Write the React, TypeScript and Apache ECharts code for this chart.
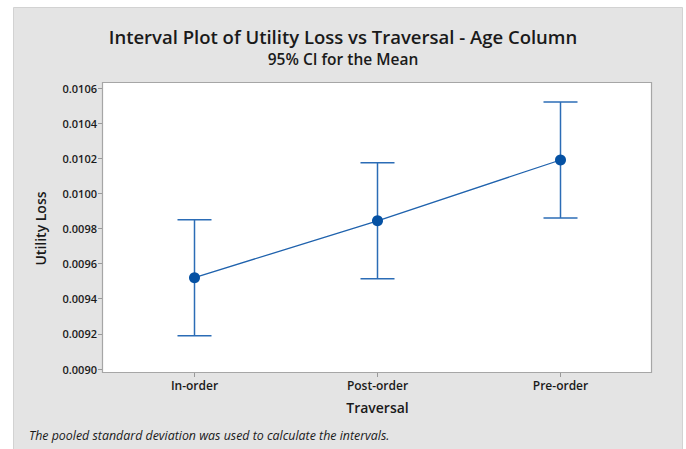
import React, { useEffect, useRef } from "react";
import * as echarts from "echarts";

const categories = ["In-order", "Post-order", "Pre-order"];
const means = [0.00952, 0.009844, 0.01019];
const lowerCI = [0.00919, 0.009514, 0.00986];
const upperCI = [0.00985, 0.010175, 0.01052];
const yTicks = { min: 0.009, max: 0.0106, step: 0.0002 };

export default function App() {
  const ref = useRef<HTMLDivElement>(null);
  useEffect(() => {
    document.body.style.margin = "0";
    const chart = echarts.init(ref.current!, null, { renderer: "svg" });
    const font = "'Open Sans', 'Noto Sans', sans-serif";
    const lineColor = "#1f62ad";
    const errData = categories.map((c, i) => [i, lowerCI[i], upperCI[i]]);
    chart.setOption({
      animation: false,
      backgroundColor: "#ffffff",
      title: {
        text: "Interval Plot of Utility Loss vs Traversal - Age Column",
        subtext: "95% CI for the Mean",
        left: "center",
        top: 22,
        itemGap: 5,
        textStyle: { fontFamily: font, fontSize: 18.5, fontWeight: 600, color: "#1a1a1a" },
        subtextStyle: { fontFamily: font, fontSize: 15.5, fontWeight: 600, color: "#1a1a1a" },
      },
      graphic: [
        {
          type: "rect",
          z: -10,
          silent: true,
          shape: { x: 13.5, y: 7.5, width: 669, height: 460 },
          style: { fill: "#e4e4e4", stroke: "#d2d2d2", lineWidth: 1 },
        },
        {
          type: "rect",
          z: -5,
          silent: true,
          shape: { x: 102.5, y: 82.5, width: 549, height: 290 },
          style: { fill: "#ffffff", stroke: "#a6a6a6", lineWidth: 1.2 },
        },
        {
          type: "text",
          left: 29,
          top: 429,
          style: {
            text: "The pooled standard deviation was used to calculate the intervals.",
            fontFamily: font,
            fontSize: 12.4,
            fontStyle: "italic",
            fill: "#1a1a1a",
          },
        },
      ],
      grid: { left: 103, right: 34, top: 88, bottom: 80 },
      xAxis: {
        type: "category",
        data: categories,
        offset: 4,
        axisLine: { show: false },
        axisTick: { show: true, alignWithLabel: true, length: 4, lineStyle: { color: "#999" } },
        axisLabel: { fontFamily: font, fontSize: 12, fontWeight: 600, color: "#1a1a1a", margin: 6 },
        name: "Traversal",
        nameLocation: "middle",
        nameGap: 27,
        nameTextStyle: { fontFamily: font, fontSize: 14, fontWeight: 600, color: "#1a1a1a" },
      },
      yAxis: {
        type: "value",
        min: yTicks.min,
        max: yTicks.max,
        interval: yTicks.step,
        offset: 1,
        axisLine: { show: false },
        splitLine: { show: false },
        axisTick: { show: true, length: 4, lineStyle: { color: "#999" } },
        axisLabel: {
          fontFamily: font,
          fontSize: 11,
          fontWeight: 600,
          color: "#1a1a1a",
          margin: 5,
          formatter: (v: number) => v.toFixed(4),
        },
        name: "Utility Loss",
        nameLocation: "middle",
        nameGap: 55,
        nameTextStyle: { fontFamily: font, fontSize: 14, fontWeight: 600, color: "#1a1a1a" },
      },
      series: [
        {
          type: "custom",
          z: 3,
          data: errData,
          renderItem: (params: any, api: any) => {
            const x = api.value(0);
            const lo = api.coord([x, api.value(1)]);
            const hi = api.coord([x, api.value(2)]);
            const hw = 17;
            const style = { stroke: "#2b6cb6", lineWidth: 1.5 };
            return {
              type: "group",
              children: [
                { type: "line", shape: { x1: lo[0], y1: lo[1], x2: hi[0], y2: hi[1] }, style },
                { type: "line", shape: { x1: lo[0] - hw, y1: lo[1], x2: lo[0] + hw, y2: lo[1] }, style },
                { type: "line", shape: { x1: hi[0] - hw, y1: hi[1], x2: hi[0] + hw, y2: hi[1] }, style },
              ],
            };
          },
        },
        {
          type: "line",
          z: 4,
          data: means,
          symbol: "circle",
          symbolSize: 11,
          lineStyle: { color: lineColor, width: 1.3 },
          itemStyle: { color: "#0551a3" },
        },
      ],
    });
    return () => chart.dispose();
  }, []);
  return <div ref={ref} style={{ width: 686, height: 449 }} />;
}
